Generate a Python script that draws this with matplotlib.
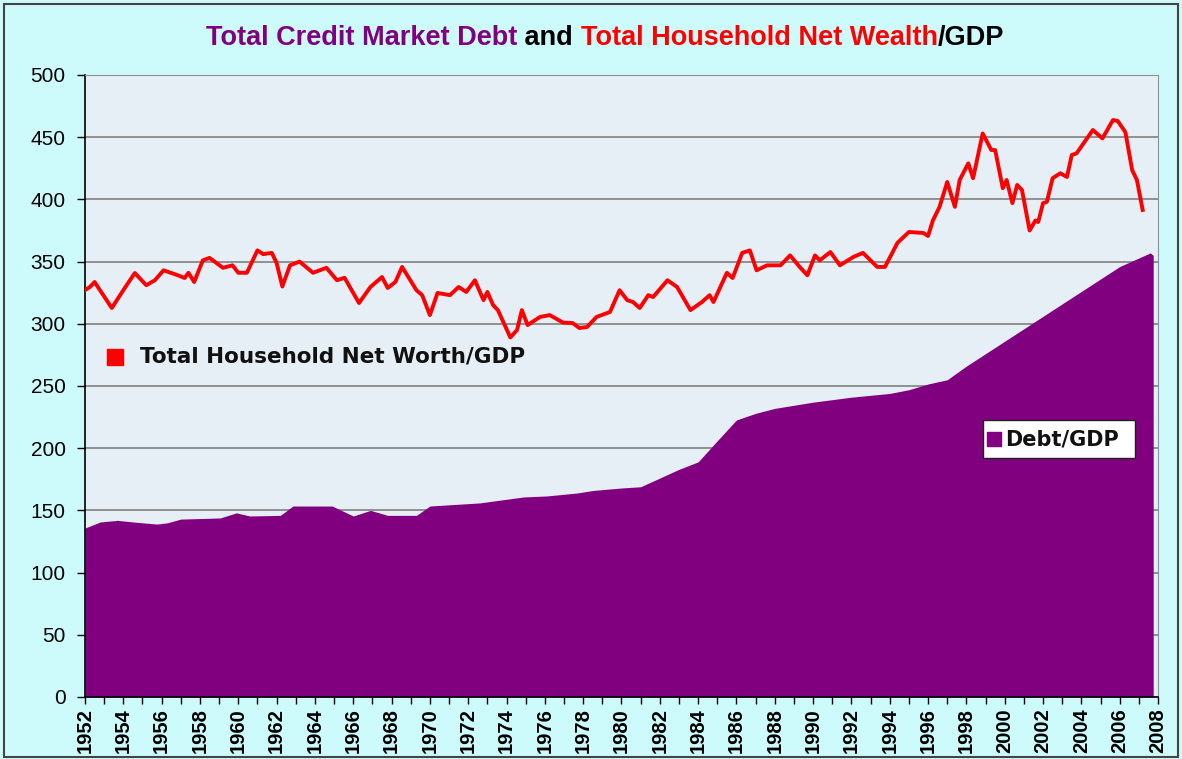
import matplotlib
matplotlib.use("Agg")
import matplotlib.pyplot as plt
from matplotlib.patches import Rectangle
from matplotlib.ticker import MultipleLocator
import numpy as np

# Total credit market debt / GDP (filled area)
debt_years = [1952.0, 1952.8, 1953.7, 1954.5, 1955.75, 1956.3, 1957.0, 1959.05,
              1959.9, 1960.6, 1962.2, 1962.85, 1964.9, 1966.0, 1966.9, 1967.8,
              1969.3, 1970.0, 1972.6, 1974.9, 1976.1, 1977.7, 1978.5, 1980.0,
              1981.0, 1982.0, 1983.0, 1984.0, 1985.0, 1986.0, 1987.0, 1988.0,
              1990.0, 1992.0, 1994.0, 1995.0, 1996.0, 1997.0, 1998.0, 2000.0,
              2002.0, 2004.0, 2006.0, 2007.6, 2007.75]
debt_vals = [135.8, 140.7, 142.0, 140.7, 139.0, 140.0, 143.0, 143.9,
             148.0, 145.5, 146.0, 153.5, 153.5, 145.5, 150.0, 146.0,
             146.0, 153.5, 156.0, 160.8, 161.6, 164.0, 166.0, 168.0,
             169.0, 176.0, 183.0, 189.0, 206.0, 222.7, 228.0, 232.0,
             237.0, 241.0, 244.0, 247.0, 251.6, 255.0, 266.0, 286.0,
             306.0, 326.0, 346.0, 357.0, 355.0]

# Total household net worth / GDP (red line)
nw_years = [1952.0, 1952.26, 1952.5, 1953.4, 1954.0, 1954.6, 1955.2, 1955.65,
            1956.1, 1956.85, 1957.2, 1957.4, 1957.7, 1958.15, 1958.5, 1959.2,
            1959.7, 1960.0, 1960.45, 1961.0, 1961.3, 1961.75, 1962.0, 1962.3,
            1962.7, 1963.2, 1963.9, 1964.6, 1965.15, 1965.55, 1966.3, 1966.9,
            1967.5, 1967.8, 1968.2, 1968.55, 1969.3, 1969.6, 1970.0, 1970.4,
            1971.05, 1971.5, 1971.9, 1972.35, 1972.8, 1973.0, 1973.3, 1973.55,
            1974.2, 1974.55, 1974.8, 1975.1, 1975.75, 1976.25, 1976.95, 1977.45,
            1977.8, 1978.2, 1978.7, 1979.4, 1979.9, 1980.3, 1980.6, 1980.95,
            1981.4, 1981.65, 1982.4, 1982.9, 1983.6, 1984.2, 1984.6, 1984.8,
            1985.5, 1985.8, 1986.3, 1986.7, 1987.05, 1987.6, 1988.3, 1988.8,
            1989.3, 1989.7, 1990.1, 1990.35, 1990.9, 1991.4, 1992.1, 1992.6,
            1993.35, 1993.75, 1994.4, 1995.0, 1995.75, 1996.0, 1996.25, 1996.6,
            1997.0, 1997.4, 1997.65, 1998.1, 1998.35, 1998.85, 1999.3, 1999.5,
            1999.9, 2000.1, 2000.4, 2000.65, 2000.9, 2001.3, 2001.6, 2001.75,
            2002.0, 2002.2, 2002.5, 2002.9, 2003.25, 2003.5, 2003.75, 2004.6,
            2005.1, 2005.65, 2005.9, 2006.3, 2006.65, 2006.9, 2007.2]
nw_vals = [327.0, 329.6, 333.6, 312.7, 327.0, 340.8, 331.0, 335.0,
           343.0, 339.0, 336.8, 341.0, 333.6, 351.0, 353.0, 345.0,
           347.0, 341.0, 341.0, 359.0, 356.0, 357.0, 349.0, 330.0,
           347.0, 350.0, 341.0, 345.0, 335.0, 337.0, 316.7, 329.6,
           337.6, 328.8, 333.6, 345.7, 327.0, 323.0, 307.0, 324.8,
           323.0, 329.6, 325.6, 335.0, 319.0, 325.6, 315.0, 311.0,
           289.0, 295.0, 311.0, 299.0, 305.5, 307.0, 301.0, 300.6,
           296.6, 297.4, 305.5, 309.5, 327.0, 319.0, 317.5, 312.7,
           323.0, 321.5, 335.0, 329.6, 311.0, 317.5, 323.0, 317.5,
           341.0, 336.8, 357.0, 359.0, 343.0, 347.0, 347.0, 355.0,
           345.7, 339.0, 355.0, 351.0, 357.7, 347.0, 353.7, 357.0,
           345.7, 345.7, 365.0, 373.8, 373.0, 370.6, 383.0, 394.0,
           414.0, 394.0, 415.6, 429.0, 417.0, 453.0, 439.7, 439.7,
           409.0, 415.6, 397.0, 411.6, 407.6, 375.0, 383.0, 381.8,
           397.0, 398.0, 417.0, 421.0, 418.0, 435.7, 437.0, 455.8,
           449.0, 463.8, 463.0, 454.0, 423.6, 415.6, 391.5]

title_parts = [("Total Credit Market Debt", "#800080"), (" and ", "black"),
               ("Total Household Net Wealth", "#ff0000"), ("/GDP", "black")]

purple = "#800080"
red = "#ff0000"

fig = plt.figure(figsize=(11.82, 7.59), dpi=100, facecolor="#cdfbfc")
ax = fig.add_axes([0.0719, 0.0817, 0.9078, 0.8195])
ax.set_facecolor("#e6eef6")

ax.fill_between(debt_years, debt_vals, 0, color=purple, linewidth=0, zorder=2)
ax.plot(nw_years, nw_vals, color=red, linewidth=2.8, zorder=3,
        solid_joinstyle="round")

ax.set_xlim(1952, 2008)
ax.set_ylim(0, 500)
ax.set_yticks(np.arange(0, 501, 50))
ax.xaxis.set_major_locator(MultipleLocator(2))
ax.xaxis.set_minor_locator(MultipleLocator(1))
ax.grid(axis="y", color="#808080", linewidth=1.2, zorder=1)
ax.set_axisbelow(True)

ax.tick_params(axis="y", direction="out", length=6, width=1, pad=8,
               labelsize=15, colors="black")
ax.tick_params(axis="x", which="both", direction="out", length=5, width=1,
               pad=3)
for lab in ax.get_yticklabels():
    lab.set_fontfamily("Liberation Sans")
ax.set_xticks(np.arange(1952, 2009, 2))
ax.set_xticklabels([str(y) for y in range(1952, 2009, 2)], rotation=90,
                   fontsize=14.5, fontweight="bold", family="Liberation Sans")

for side in ["top", "right"]:
    ax.spines[side].set_color("#909090")
for side in ["left", "bottom"]:
    ax.spines[side].set_color("black")
    ax.spines[side].set_linewidth(1.2)

# in-chart labels
ax.scatter([0.028], [0.547], marker="s", s=130, color=red,
           transform=ax.transAxes, zorder=5, clip_on=False)
ax.text(0.051, 0.547, "Total Household Net Worth/GDP", transform=ax.transAxes,
        fontsize=15.5, fontweight="bold", va="center", ha="left",
        family="DejaVu Sans", color="#111111", zorder=5)

ax.add_patch(Rectangle((0.837, 0.384), 0.142, 0.061, transform=ax.transAxes,
                       facecolor="white", edgecolor="#222222", linewidth=1,
                       zorder=5))
ax.scatter([0.8475], [0.4145], marker="s", s=90, color=purple,
           transform=ax.transAxes, zorder=6)
ax.text(0.8575, 0.4145, "Debt/GDP", transform=ax.transAxes, fontsize=15,
        fontweight="bold", va="center", ha="left", family="DejaVu Sans",
        color="#111111", zorder=6)

# multi-coloured title
fig.canvas.draw()
renderer = fig.canvas.get_renderer()
title_fam = ["Liberation Sans Narrow", "Liberation Sans", "DejaVu Sans"]
pieces = []
for txt, col in title_parts:
    t = fig.text(0, 0.95, txt, color=col, fontsize=19.5, fontweight="bold",
                 family=title_fam, va="center", ha="left")
    pieces.append(t)
widths = [p.get_window_extent(renderer).width for p in pieces]
total = sum(widths)
x0 = 605 - total / 2
for p, w in zip(pieces, widths):
    p.set_x(x0 / fig.bbox.width)
    x0 += w

fig.patches.append(Rectangle((0.003, 0.003), 0.994, 0.992,
                             transform=fig.transFigure, fill=False,
                             edgecolor="#444444", linewidth=1.5))

plt.savefig("out.png", dpi=100, facecolor=fig.get_facecolor())
